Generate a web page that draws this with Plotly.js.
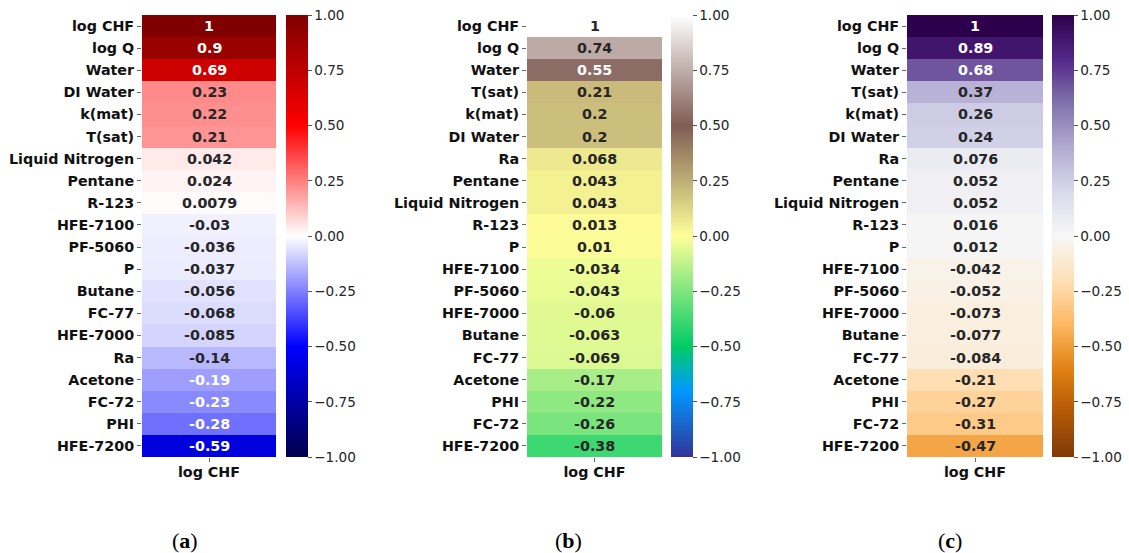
<!DOCTYPE html>
<html>
<head>
<meta charset="utf-8">
<script src="https://cdn.plot.ly/plotly-3.0.1.min.js"></script>
<style>
  html, body { margin: 0; padding: 0; background: #fff; }
  #chart { width: 1129px; height: 553px; }
</style>
</head>
<body>
<div id="chart"></div>
<script>
// Correlation of each feature with log CHF, three estimators.
const column = "log CHF";

const labelsA = ["log CHF", "log Q", "Water", "DI Water", "k(mat)", "T(sat)", "Liquid Nitrogen", "Pentane", "R-123",
  "HFE-7100", "PF-5060", "P", "Butane", "FC-77", "HFE-7000", "Ra", "Acetone", "FC-72", "PHI", "HFE-7200"];
const valuesA = [1, 0.9, 0.69, 0.23, 0.22, 0.21, 0.042, 0.024, 0.0079,
  -0.03, -0.036, -0.037, -0.056, -0.068, -0.085, -0.14, -0.19, -0.23, -0.28, -0.59];

const labelsB = ["log CHF", "log Q", "Water", "T(sat)", "k(mat)", "DI Water", "Ra", "Pentane", "Liquid Nitrogen", "R-123",
  "P", "HFE-7100", "PF-5060", "HFE-7000", "Butane", "FC-77", "Acetone", "PHI", "FC-72", "HFE-7200"];
const valuesB = [1, 0.74, 0.55, 0.21, 0.2, 0.2, 0.068, 0.043, 0.043, 0.013,
  0.01, -0.034, -0.043, -0.06, -0.063, -0.069, -0.17, -0.22, -0.26, -0.38];

const labelsC = ["log CHF", "log Q", "Water", "T(sat)", "k(mat)", "DI Water", "Ra", "Pentane", "Liquid Nitrogen", "R-123",
  "P", "HFE-7100", "PF-5060", "HFE-7000", "Butane", "FC-77", "Acetone", "PHI", "FC-72", "HFE-7200"];
const valuesC = [1, 0.89, 0.68, 0.37, 0.26, 0.24, 0.076, 0.052, 0.052, 0.016,
  0.012, -0.042, -0.052, -0.073, -0.077, -0.084, -0.21, -0.27, -0.31, -0.47];

const colorbarTicks = [-1, -0.75, -0.5, -0.25, 0, 0.25, 0.5, 0.75, 1];
const panelTags = ["a", "b", "c"];

// Colour maps (seismic, terrain, PuOr)
const seismic = [[0, "rgb(0,0,77)"], [0.25, "rgb(0,0,255)"], [0.5, "rgb(255,255,255)"], [0.75, "rgb(255,0,0)"], [1, "rgb(128,0,0)"]];
const terrain = [[0, "rgb(51,51,153)"], [0.15, "rgb(0,153,255)"], [0.25, "rgb(0,204,102)"], [0.5, "rgb(255,255,153)"],
  [0.75, "rgb(128,92,84)"], [1, "rgb(255,255,255)"]];
const puorHex = ["#7f3b08", "#b35806", "#e08214", "#fdb863", "#fee0b6", "#f7f7f7", "#d8daeb", "#b2abd2", "#8073ac", "#542788", "#2d004b"];
const puor = puorHex.map((h, i) => [i / 10, h]);

function toRgb(c) {
  if (c[0] === "#") {
    return [parseInt(c.slice(1, 3), 16), parseInt(c.slice(3, 5), 16), parseInt(c.slice(5, 7), 16)];
  }
  return c.match(/\d+/g).map(Number);
}
function sample(scale, t) {
  for (let i = 1; i < scale.length; i++) {
    if (t <= scale[i][0]) {
      const a = scale[i - 1], b = scale[i];
      const f = (t - a[0]) / (b[0] - a[0]);
      const ca = toRgb(a[1]), cb = toRgb(b[1]);
      return ca.map((v, k) => v + (cb[k] - v) * f);
    }
  }
  return toRgb(scale[scale.length - 1][1]);
}
// Pick light or dark annotation text from the cell colour's luminance
function luminance(rgb) {
  const lin = rgb.map(v => {
    const c = v / 255;
    return c <= 0.03928 ? c / 12.92 : Math.pow((c + 0.055) / 1.055, 2.4);
  });
  return 0.2126 * lin[0] + 0.7152 * lin[1] + 0.0722 * lin[2];
}
function fmt(v) { return String(Number(v.toPrecision(2))); }

const W = 1129, H = 553;
const plotTop = 15, plotBottom = 457;
const panels = [
  { labels: labelsA, values: valuesA, scale: seismic, hx: [142, 276], cbx: 286, tagx: 185 },
  { labels: labelsB, values: valuesB, scale: terrain, hx: [527, 662], cbx: 671, tagx: 568 },
  { labels: labelsC, values: valuesC, scale: puor, hx: [907, 1043], cbx: 1052, tagx: 950 }
];

const FONT = "DejaVu Sans, Verdana, sans-serif";
const LABEL_SIZE = 14.3;
const traces = [];
const annotations = [];
const layout = {
  width: W, height: H,
  margin: { l: 0, r: 0, t: 0, b: 0 },
  paper_bgcolor: "#fff", plot_bgcolor: "#fff",
  showlegend: false,
  annotations: annotations
};

const yDom = [(H - plotBottom) / H, (H - plotTop) / H];

panels.forEach((p, i) => {
  const sfx = i === 0 ? "" : String(i + 1);
  const xa = "x" + sfx, ya = "y" + sfx;
  traces.push({
    type: "heatmap",
    x: [column],
    y: p.labels,
    z: p.values.map(v => [v]),
    xaxis: xa, yaxis: ya,
    zmin: -1, zmax: 1,
    colorscale: p.scale,
    hoverinfo: "skip",
    colorbar: {
      x: p.cbx / W, xanchor: "left", xpad: 0,
      y: yDom[1], yanchor: "top", ypad: 0,
      len: yDom[1] - yDom[0], lenmode: "fraction",
      thickness: 22, thicknessmode: "pixels",
      outlinewidth: 0,
      ticks: "outside", ticklen: 4, tickwidth: 1, tickcolor: "#555",
      tickvals: colorbarTicks, tickformat: ".2f",
      tickfont: { family: FONT, size: 13.6, color: "#262626" }
    }
  });
  layout["xaxis" + sfx] = {
    domain: [p.hx[0] / W, p.hx[1] / W],
    anchor: ya, type: "category",
    showgrid: false, zeroline: false, showline: false,
    ticks: "outside", ticklen: 4, tickwidth: 1, tickcolor: "#666",
    ticklabelstandoff: -2,
    tickfont: { family: FONT, size: LABEL_SIZE, weight: "bold", color: "#111" },
    fixedrange: true
  };
  layout["yaxis" + sfx] = {
    domain: yDom,
    anchor: xa, type: "category",
    categoryorder: "array", categoryarray: p.labels,
    autorange: "reversed",
    showgrid: false, zeroline: false, showline: false,
    ticks: "outside", ticklen: 4, tickwidth: 1, tickcolor: "#666",
    tickfont: { family: FONT, size: LABEL_SIZE, weight: "bold", color: "#111" },
    fixedrange: true
  };
  p.labels.forEach((lab, r) => {
    const v = p.values[r];
    const lum = luminance(sample(p.scale, (v + 1) / 2));
    annotations.push({
      xref: xa, yref: ya, x: column, y: lab,
      text: fmt(v), showarrow: false,
      font: { family: FONT, size: LABEL_SIZE, weight: "bold", color: lum > 0.408 ? "#262626" : "#ffffff" }
    });
  });
  annotations.push({
    xref: "paper", yref: "paper", x: p.tagx / W, y: (H - 540) / H,
    xanchor: "center", yanchor: "middle",
    text: "(<b>" + panelTags[i] + "</b>)", showarrow: false,
    font: { family: "Liberation Serif, DejaVu Serif, serif", size: 22, color: "#000" }
  });
});

Plotly.newPlot("chart", traces, layout, { staticPlot: true, displayModeBar: false });
</script>
</body>
</html>
